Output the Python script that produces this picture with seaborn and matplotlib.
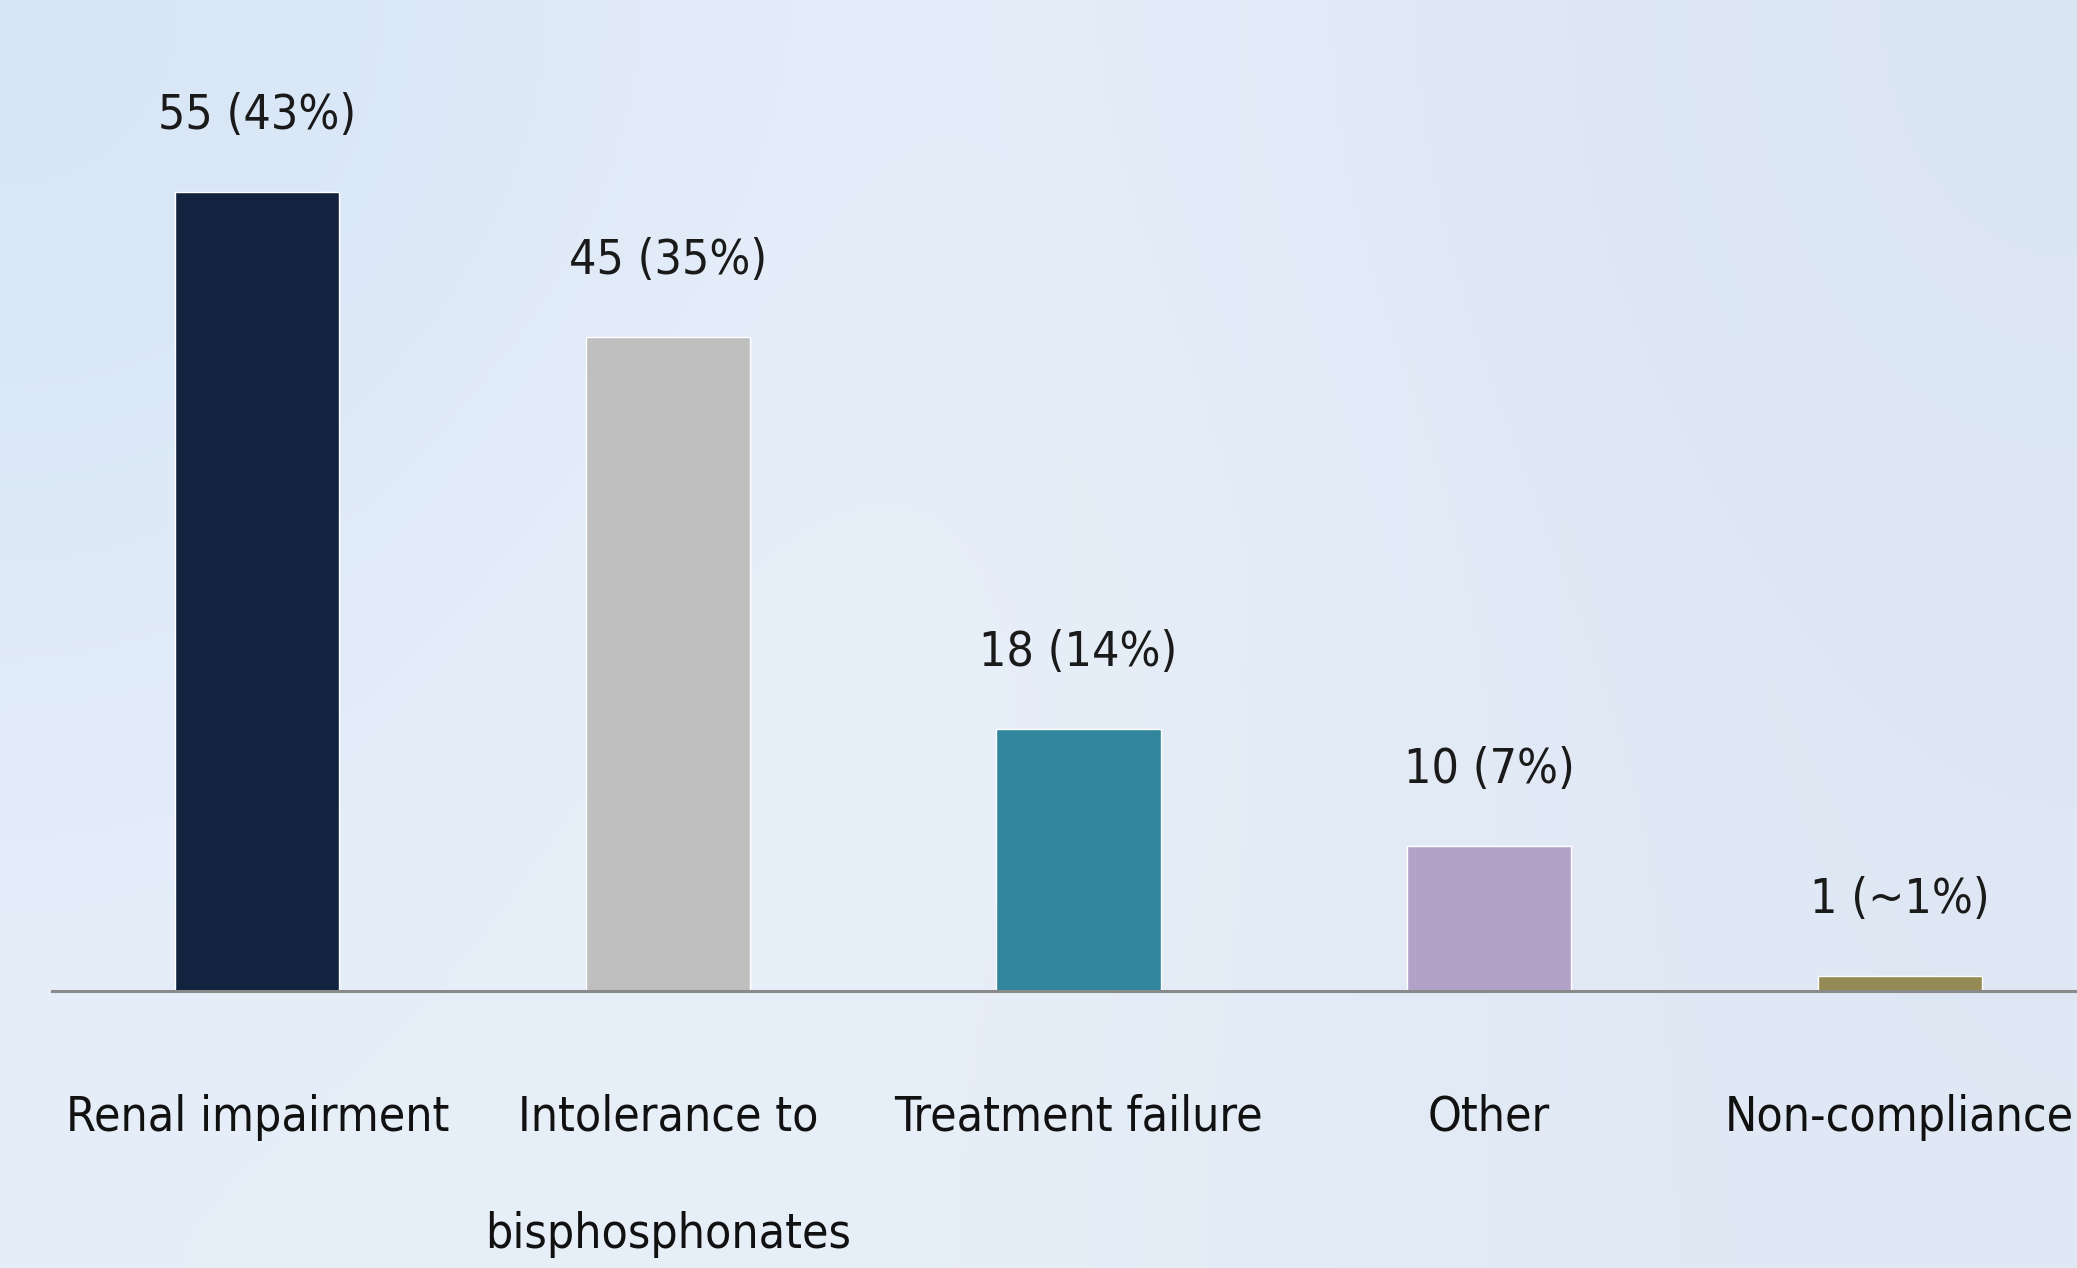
import numpy as np
import pandas as pd
import matplotlib
matplotlib.use("Agg")
import matplotlib.pyplot as plt
from matplotlib import font_manager
from matplotlib.font_manager import FontProperties
from matplotlib.colors import to_rgb
import seaborn as sns

# -------- DATA --------
categories = ["Renal impairment", "Intolerance to\nbisphosphonates", "Treatment failure",
              "Other", "Non-compliance"]
counts = [55, 45, 18, 10, 1]
pct_labels = ["55 (43%)", "45 (35%)", "18 (14%)", "10 (7%)", "1 (~1%)"]
bar_colors = ["#12233f", "#bfbfbf", "#31859c", "#b3a2c7", "#948a54"]

df = pd.DataFrame({"reason": categories, "count": counts})

# -------- FONT (narrowest sans on the box) --------
sns.set_theme(style="white")
stretch_rank = {"ultra-condensed": 1, "extra-condensed": 2, "condensed": 3, "semi-condensed": 4}
font_name, font_stretch, best = "Liberation Sans", "normal", 99
for f in font_manager.fontManager.ttflist:
    if "Mono" in f.name or "Serif" in f.name or f.style != "normal":
        continue
    if f.weight not in (400, "normal", "regular"):
        continue
    rank = stretch_rank.get(str(f.stretch), 99)
    if rank == 99 and ("Narrow" in f.name or "Condensed" in f.name):
        rank = 3
    if rank < best:
        font_name, font_stretch, best = f.name, f.stretch, rank
plt.rcParams["font.family"] = [font_name, "DejaVu Sans"]

fig = plt.figure(figsize=(20.77, 12.68), dpi=100)
renderer = fig.canvas.get_renderer()

# pick a size so "Renal impairment" is about as wide as in the slide (~384 px)
probe = fig.text(0, 0, "Renal impairment", fontsize=44, fontstretch=font_stretch)
w44 = probe.get_window_extent(renderer).width
probe.remove()
fs = min(60, 44 * 384 / w44)
fp = FontProperties(family=[font_name, "DejaVu Sans"], size=fs, stretch=font_stretch)
lp_w, lp_h, lp_d = renderer.get_text_width_height_descent("lp", fp, ismath=False)

# soft blue slide background
bg = fig.add_axes([0, 0, 1, 1], zorder=-1)
grid = [["#d6e5f6", "#e6eef9", "#e2ebf7", "#dae5f3"],
        ["#e0ebf8", "#eaf1fa", "#e4ecf7", "#dde7f3"],
        ["#e6eef9", "#e8f0f9", "#e3ebf6", "#dfe8f4"]]
img = np.array([[to_rgb(c) for c in row] for row in grid])
bg.imshow(img, aspect="auto", interpolation="bicubic", extent=[0, 1, 0, 1])
bg.axis("off")

# -------- VISUALIZATION --------
ax = fig.add_axes([52 / 2077, 277 / 1268, 2053 / 2077, 872 / 1268])
ax.patch.set_visible(False)
sns.barplot(data=df, x="reason", y="count", hue="reason",
            palette=dict(zip(categories, bar_colors)), width=0.4,
            legend=False, saturation=1, ax=ax)

pad_pt = (63 - lp_d) * 72 / 100
for c, lab in zip(ax.containers, pct_labels):
    ax.bar_label(c, labels=[lab], padding=pad_pt, fontsize=fs,
                 fontstretch=font_stretch, color="#1a1a1a")

ax.set_xlim(-0.5, 4.5)
ax.set_ylim(0, 60)
ax.set_xlabel("")
ax.set_ylabel("")
ax.set_yticks([])
ax.tick_params(axis="x", length=0, pad=74, labelsize=fs, labelcolor="#111111")
for t in ax.get_xticklabels():
    t.set_linespacing(0.93 * 115 / (lp_h - lp_d))
    t.set_fontstretch(font_stretch)
for s in ["left", "right", "top"]:
    ax.spines[s].set_visible(False)
ax.spines["bottom"].set_color("#8a8a8a")
ax.spines["bottom"].set_linewidth(2.2)

fig.savefig("out.png", dpi=100)
